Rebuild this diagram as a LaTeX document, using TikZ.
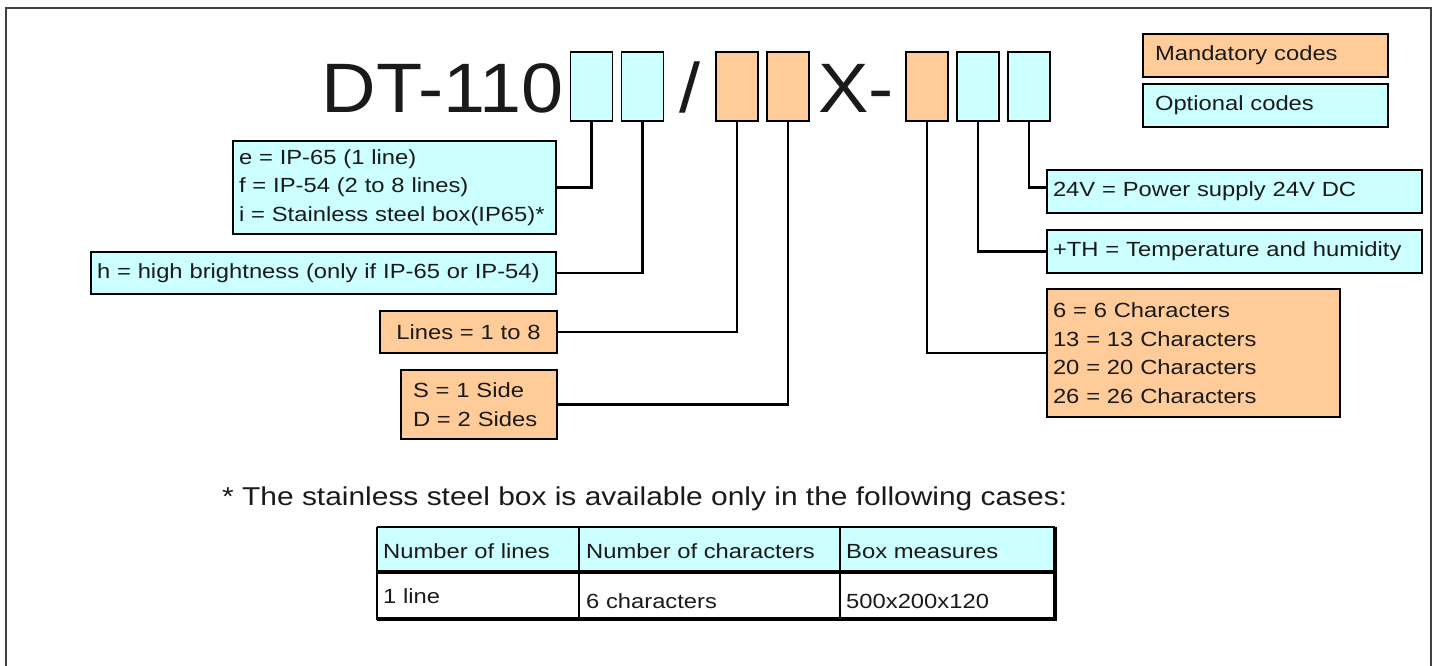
\documentclass[tikz,border=0pt]{standalone}
\usepackage{fontspec}
\setmainfont{Liberation Sans}[FakeStretch=1.16]
\newfontfamily\dttitlefam{Liberation Sans}[FakeStretch=1.08]
\newcommand\dtbody{\fontsize{20.5}{28.5}\selectfont}
\newcommand\dtnote{\fontsize{25.8}{30}\selectfont}
\newcommand\dttitle{\dttitlefam\fontsize{70}{80}\selectfont}
\definecolor{mandc}{HTML}{FFCC99}
\definecolor{optc}{HTML}{CCFFFF}
\definecolor{inkc}{HTML}{1A1A1A}
\begin{document}
\begin{tikzpicture}[x=1pt,y=-1pt,
  codebox/.style={draw=black, line width=1.8pt, minimum width=42pt, minimum height=69pt, inner sep=0pt},
  mand/.style={fill=mandc},
  opt/.style={fill=optc},
  infobox/.style={draw=black, line width=1.8pt, inner xsep=6pt, inner ysep=0pt, align=left, font=\dtbody, text=inkc},
  conn/.style={draw=black, line width=2.2pt},
  plain/.style={inner sep=0pt, text=inkc},
  tline/.style={draw=black, line width=2pt}]
\useasboundingbox (0,0) rectangle (1437,666);
% outer frame
\draw[line width=2pt, draw=black!75] (6,666) -- (6,8) -- (1431,8) -- (1431,666);

% code line
\node[plain, anchor=base east, font=\dttitle] (title) at (564,113) {DT-110};
\node[codebox,opt]  (b1) at (591.5,86.5) {};
\node[codebox,opt]  (b2) at (642.5,86.5) {};
\node[plain, anchor=base, font=\dttitle] (slash) at (690,113) {/};
\node[codebox,mand] (b3) at (737,86.5) {};
\node[codebox,mand] (b4) at (788,86.5) {};
\node[plain, anchor=base west, font=\dttitle] (xdash) at (818,113) {X-};
\node[codebox,mand] (b5) at (927,86.5) {};
\node[codebox,opt]  (b6) at (978,86.5) {};
\node[codebox,opt]  (b7) at (1029,86.5) {};

% legend
\node[infobox,mand,text width=221pt,inner xsep=12pt,minimum height=43pt] (legM) at (1265.5,55.5) {Mandatory codes};
\node[infobox,opt,text width=221pt,inner xsep=12pt,minimum height=43pt] (legO) at (1265.5,105.5) {Optional codes};

% left boxes
\node[infobox,opt,text width=311pt,minimum height=93pt] (boxE) at (394.5,187.5)
  {e = IP-65 (1 line)\\f = IP-54 (2 to 8 lines)\\i = Stainless steel box(IP65)*};
\node[infobox,opt,text width=453pt,minimum height=42pt] (boxH) at (323.5,273)
  {h = high brightness (only if IP-65 or IP-54)};
\node[infobox,mand,text width=165pt,minimum height=42pt,align=center] (boxL) at (468.5,332)
  {Lines = 1 to 8};
\node[infobox,mand,text width=132pt,inner xsep=12pt,minimum height=69pt] (boxS) at (479,404.5)
  {S = 1 Side\\D = 2 Sides};

% right boxes
\node[infobox,opt,text width=363pt,minimum height=43pt] (box24) at (1234.5,191.5)
  {24V = Power supply 24V DC};
\node[infobox,opt,text width=363pt,minimum height=43pt] (boxTH) at (1234.5,251.5)
  {+TH = Temperature and humidity};
\node[infobox,mand,text width=281pt,minimum height=128pt] (box6) at (1193.5,353)
  {6 = 6 Characters\\13 = 13 Characters\\20 = 20 Characters\\26 = 26 Characters};

% connectors
\draw[conn] (b1.south) |- (boxE.east);
\draw[conn] (b2.south) |- (boxH.east);
\draw[conn] (b3.south) |- (boxL.east);
\draw[conn] (b4.south) |- (boxS.east);
\draw[conn] (b5.south) |- (box6.west);
\draw[conn] (b6.south) |- (boxTH.west);
\draw[conn] (b7.south) |- ([yshift=4pt]box24.west);

% footnote
\node[plain, anchor=base west, font=\dtnote] (note) at (222,505)
  {* The stainless steel box is available only in the following cases:};

% table
\fill[optc] (377,527) rectangle (1055,572);
\draw[tline] (377,527) -- (1055,527);
\draw[tline] (377,527) -- (377,620);
\draw[tline] (579,527) -- (579,620);
\draw[tline] (840,527) -- (840,620);
\draw[draw=black, line width=4.5pt] (377,572) -- (1055,572);
\draw[draw=black, line width=4pt] (377,619) -- (1057,619);
\draw[draw=black, line width=3.5pt] (1055,527) -- (1055,621);
\node[plain, anchor=base west, font=\dtbody] (h1) at (383,558) {Number of lines};
\node[plain, anchor=base west, font=\dtbody] (h2) at (586,558) {Number of characters};
\node[plain, anchor=base west, font=\dtbody] (h3) at (846,558) {Box measures};
\node[plain, anchor=base west, font=\dtbody] (d1) at (383,603) {1 line};
\node[plain, anchor=base west, font=\dtbody] (d2) at (586,608) {6 characters};
\node[plain, anchor=base west, font=\dtbody] (d3) at (846,608) {500x200x120};
\end{tikzpicture}
\end{document}
